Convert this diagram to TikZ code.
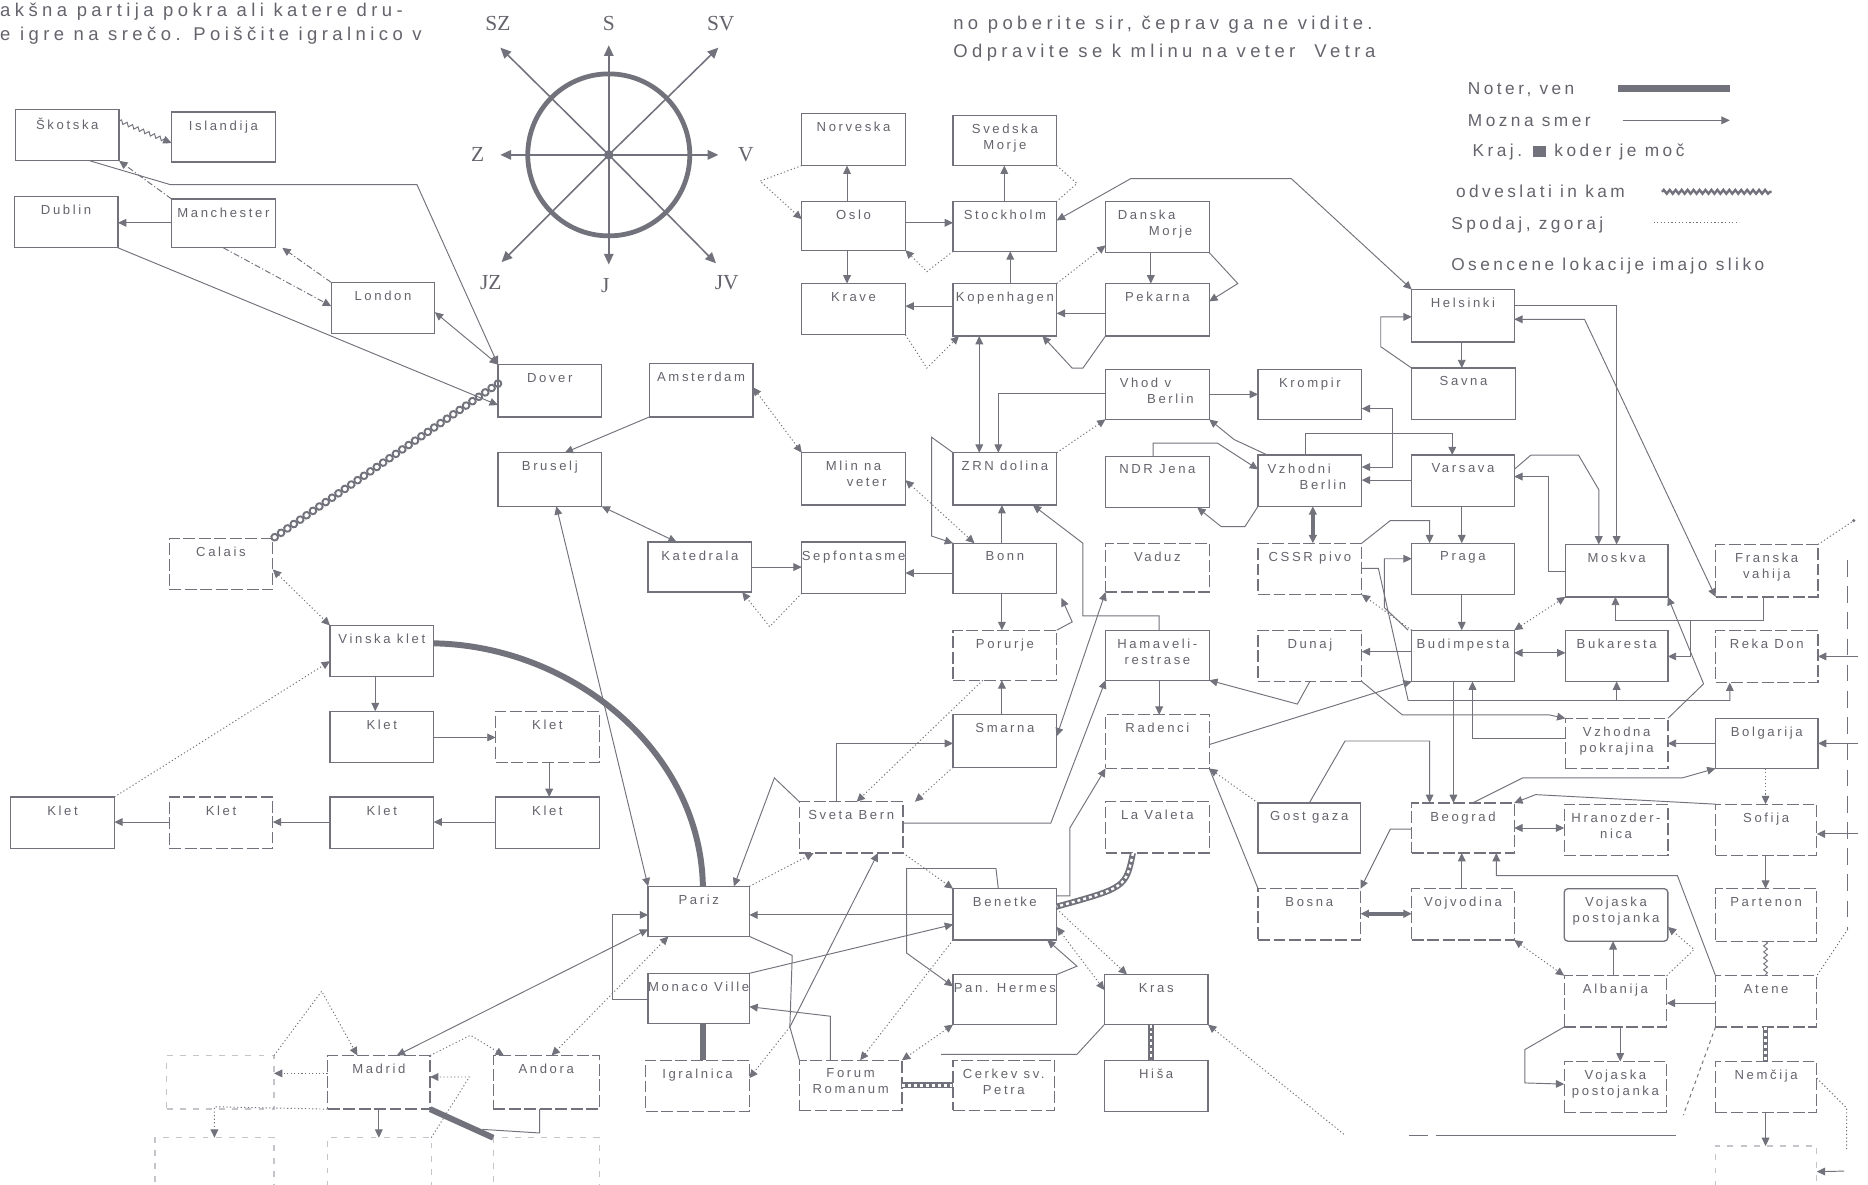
\documentclass[tikz,border=0pt]{standalone}
\usepackage{fontspec}
\setmainfont{Liberation Sans}
\newfontfamily\lblfam[LetterSpace=20]{Liberation Sans}
\newfontfamily\parfam[LetterSpace=24]{Liberation Sans}
\newfontfamily\legfam[LetterSpace=20]{Liberation Sans}
\newfontfamily\compfam{Liberation Serif}
\usetikzlibrary{arrows.meta,decorations.pathmorphing,decorations.markings}
\definecolor{ink}{HTML}{72727C}
\definecolor{txt}{HTML}{64646D}
\definecolor{faint}{HTML}{C4C4CA}
\tikzset{
  box/.style={draw=ink, line width=1.1pt, anchor=north west, minimum width=87pt,
    minimum height=43pt, inner sep=0pt, outer sep=0pt},
  dbox/.style={box, dash pattern=on 10pt off 3pt},
  fbox/.style={box, draw=faint, dash pattern=on 5pt off 6pt},
  lbl/.style={font=\lblfam\fontsize{11}{13.5}\selectfont, text=txt, inner sep=0pt,
    align=center, anchor=north},
  partxt/.style={font=\parfam\fontsize{15.5}{19}\selectfont, text=txt, inner sep=0pt},
  legtxt/.style={font=\legfam\fontsize{14.5}{17}\selectfont, text=txt, inner sep=0pt, anchor=west},
  link/.style={draw=ink, line width=0.8pt},
  arr/.style={link, -{Triangle[length=7pt,width=6.5pt]}},
  barr/.style={link, {Triangle[length=7pt,width=6.5pt]}-{Triangle[length=7pt,width=6.5pt]}},
  dotline/.style={dash pattern=on 1pt off 2pt},
  dashdotline/.style={dash pattern=on 5pt off 2pt on 1pt off 2pt},
  heavyline/.style={draw=ink, line width=5pt},
  chainline/.style={draw=ink, line width=5pt,
    postaction={draw=white, line width=2pt, dash pattern=on 2.5pt off 2.5pt}},
  ringchain/.style={postaction={decorate}, decoration={markings,
    mark=between positions 0 and 1 step 6.5pt with
      {\draw[ink, line width=1.6pt] (0,0) circle[radius=2.8pt];}}},
  wavyline/.style={link, decorate, decoration={snake, amplitude=1.6pt, segment length=5pt}},
  spoke/.style={draw=ink, line width=1.3pt, -{Triangle[length=9pt,width=8pt]}},
  compass/.style={font=\compfam\fontsize{18}{18}\selectfont, text=txt, inner sep=0pt},
}
% a location box with its name set near the top edge
\newcommand\loc[4][]{\node[box,#1] (#2) at (#3) {};
  \node[lbl] (#2-t) at ([yshift=-7pt]#2.north) {#4};}

\begin{document}
\begin{tikzpicture}[x=1pt,y=-1pt]
\useasboundingbox (0,0) rectangle (1568,994);
\fill[white] (0,0) rectangle (1568,994);

% ---------- running text ----------
\node[partxt, anchor=base west] (p1) at (0,14) {akšna partija pokra ali katere dru-};
\node[partxt, anchor=base west] (p2) at (0,34) {e igre na srečo. Poiščite igralnico v};
\node[partxt, anchor=base west] (p3) at (800,25) {no poberite sir, čeprav ga ne vidite.};
\node[partxt, anchor=base west] (p4) at (800,48) {Odpravite se k mlinu na veter\ \ Vetra};

% ---------- legend ----------
\node[legtxt] (lg1) at (1232,75) {Noter, ven};
\node[legtxt] (lg2) at (1232,101) {Mozna smer};
\node[legtxt] (lg3) at (1236,128) {Kraj. \textcolor{ink}{\rule{11pt}{9pt}} koder je moč};
\node[legtxt] (lg4) at (1222,161) {odveslati in kam};
\node[legtxt] (lg5) at (1218,189) {Spodaj, zgoraj};
\node[legtxt] (lg6) at (1218,223) {Osencene lokacije imajo sliko};
\coordinate (la1) at (1358,74);  \coordinate (lb1) at (1452,74);
\coordinate (la2) at (1362,101); \coordinate (lb2) at (1452,101);
\coordinate (la4) at (1395,161); \coordinate (lb4) at (1487,161);
\coordinate (la5) at (1388,187); \coordinate (lb5) at (1460,187);
\draw[heavyline, line width=6pt] (la1) -- (lb1);
\draw[arr] (la2) -- (lb2);
\draw[wavyline, line width=2pt] (la4) -- (lb4);
\draw[link, dotline, line width=0.6pt] (la5) -- (lb5);

% ---------- compass ----------
\coordinate (c0) at (511,130);
\coordinate (cN) at (511,38);  \coordinate (cS) at (511,222);
\coordinate (cE) at (603,130); \coordinate (cW) at (420,130);
\coordinate (cNE) at (603,40); \coordinate (cNW) at (420,40);
\coordinate (cSE) at (601,221); \coordinate (cSW) at (421,220);
\draw[draw=ink, line width=4pt] (c0) circle[radius=68pt];
\foreach \t in {cN,cS,cE,cW,cNE,cNW,cSE,cSW} \draw[spoke] (c0) -- (\t);
\fill[ink] (c0) circle[radius=4pt];
\node[compass] (kSZ) at (418,20) {SZ};
\node[compass] (kS) at (511,20) {S};
\node[compass] (kSV) at (605,20) {SV};
\node[compass] (kZ) at (401,130) {Z};
\node[compass] (kV) at (626,130) {V};
\node[compass] (kJZ) at (412,237) {JZ};
\node[compass] (kJ) at (508,240) {J};
\node[compass] (kJV) at (610,237) {JV};

% ---------- locations ----------
\loc{skotska}{13,92}{Škotska}
\loc[minimum height=42pt]{islandija}{144,94}{Islandija}
\loc{dublin}{12,165}{Dublin}
\loc[minimum height=41pt]{manchester}{144,167}{Manchester}
\loc{london}{278,237}{London}
\loc[minimum height=44pt]{dover}{418,306}{Dover}
\loc[dbox]{calais}{142,452}{Calais}
\loc{vinska}{277,525}{Vinska klet}
\loc{kleta}{277,597}{Klet}
\loc[dbox]{kletb}{416,597}{Klet}
\loc{kletc}{416,669}{Klet}
\loc{kletd}{277,669}{Klet}
\loc[dbox]{klete}{142,669}{Klet}
\loc{kletf}{9,669}{Klet}

\loc[minimum height=45pt]{amsterdam}{545,305}{Amsterdam}
\loc[minimum height=45pt]{bruselj}{418,380}{Bruselj}
\loc[minimum height=44pt]{mlin}{673,380}{Mlin na\\\hspace*{22pt}veter}
\loc[minimum height=42pt]{katedrala}{544,455}{Katedrala}
\loc{sepf}{673,455}{Sepfontasme}

\loc[minimum height=44pt]{norveska}{673,95}{Norveska}
\loc[minimum height=42pt]{svedska}{800,97}{Svedska\\Morje}
\loc[minimum height=41pt]{oslo}{673,169}{Oslo}
\loc[minimum height=42pt]{stockholm}{800,169}{Stockholm}
\loc{danska}{928,169}{Danska\hspace*{18pt}\\\hspace*{22pt}Morje}
\loc{krave}{673,238}{Krave}
\loc[minimum height=44pt]{kopenhagen}{800,238}{Kopenhagen}
\loc[minimum height=44pt]{pekarna}{928,238}{Pekarna}
\loc[minimum height=42pt]{vhod}{928,310}{Vhod v\hspace*{20pt}\\\hspace*{22pt}Berlin}
\loc[minimum height=44pt]{zrn}{800,380}{ZRN dolina}
\loc{ndr}{928,383}{NDR Jena}
\loc[minimum height=42pt]{bonn}{800,456}{Bonn}
\loc[dbox, minimum height=41pt]{vaduz}{928,456}{Vaduz}
\loc[dbox, minimum height=42pt]{porurje}{800,529}{Porurje}
\loc[minimum height=42pt]{hamaveli}{928,529}{Hamaveli-\\restrase}
\loc[minimum height=44pt]{smarna}{800,600}{Smarna}
\loc[dbox, minimum height=45pt]{radenci}{928,600}{Radenci}
\loc[dbox]{sveta}{671,673}{Sveta Bern}
\loc[dbox]{lavaleta}{928,673}{La Valeta}
\loc[minimum width=85pt, minimum height=42pt]{pariz}{544,744}{Pariz}
\loc{benetke}{800,746}{Benetke}
\loc[minimum width=85pt, minimum height=42pt]{monaco}{544,817}{Monaco Ville}
\loc[minimum height=42pt]{hermes}{800,818}{Pan. Hermes}
\loc[minimum height=42pt]{kras}{927,818}{Kras}
\loc[dbox]{igralnica}{542,890}{Igralnica}
\loc[dbox, minimum width=86pt, minimum height=42pt]{forum}{671,890}{Forum\\Romanum}
\loc[dbox, minimum width=85pt, minimum height=42pt]{cerkev}{800,890}{Cerkev sv.\\Petra}
\loc{jama}{927,890}{Hiša}

\loc[minimum height=42pt]{krompir}{1056,310}{Krompir}
\loc[minimum width=86pt, minimum height=44pt]{helsinki}{1185,243}{Helsinki}
\loc{savna}{1185,309}{Savna}
\loc{vzberlin}{1056,382}{Vzhodni\hspace*{18pt}\\\hspace*{22pt}Berlin}
\loc[minimum width=86pt]{varsava}{1185,382}{Varsava}
\loc[dbox]{cssr}{1056,456}{CSSR pivo}
\loc[minimum width=86pt]{praga}{1185,456}{Praga}
\loc[minimum width=86pt, minimum height=44pt]{moskva}{1314,457}{Moskva}
\loc[dbox, minimum width=86pt, minimum height=44pt]{franska}{1440,457}{Franska\\vahija}
\loc[dbox]{dunaj}{1056,529}{Dunaj}
\loc[minimum width=86pt]{budimpesta}{1185,529}{Budimpesta}
\loc[minimum width=86pt]{bukaresta}{1314,529}{Bukaresta}
\loc[dbox, minimum width=86pt, minimum height=44pt]{rekadon}{1440,529}{Reka Don}
\loc[dbox, minimum width=86pt, minimum height=42pt]{vzhodna}{1314,603}{Vzhodna\\pokrajina}
\loc[minimum width=86pt, minimum height=42pt]{bolgarija}{1440,603}{Bolgarija}
\loc[minimum width=86pt, minimum height=42pt]{gosti}{1056,674}{Gost gaza}
\loc[dbox, minimum width=86pt, minimum height=42pt]{beograd}{1185,674}{Beograd}
\loc[dbox]{hrano}{1313,675}{Hranozder-\\nica}
\loc[dbox, minimum width=85pt]{sofija}{1440,675}{Sofija}
\loc[dbox, minimum width=86pt]{bosna}{1056,746}{Bosna}
\loc[dbox, minimum width=86pt]{vojvodina}{1185,746}{Vojvodina}
\loc[rounded corners=3pt, minimum height=44pt]{vojaska1}{1313,746}{Vojaska\\postojanka}
\loc[dbox, minimum width=85pt, minimum height=44pt]{partenon}{1440,746}{Partenon}
\loc[dbox, minimum width=86pt]{albanija}{1313,819}{Albanija}
\loc[dbox, minimum width=85pt]{atene}{1440,819}{Atene}
\loc[dbox, minimum width=86pt]{vojaska2}{1313,891}{Vojaska\\postojanka}
\loc[dbox, minimum width=85pt]{nemcija}{1440,891}{Nemčija}
\node[fbox, minimum width=85pt] (nb) at (1440,962) {};

\loc[dbox, minimum width=86pt, minimum height=45pt]{madrid}{275,886}{Madrid}
\loc[dbox, minimum width=89pt, minimum height=45pt]{andora}{414,886}{Andora}
\node[fbox, minimum width=90pt, minimum height=45pt] (lizbona) at (140,886) {};
\node[fbox, minimum width=100pt] (b1) at (130,955) {};
\node[fbox] (b2) at (275,955) {};
\node[fbox, minimum width=89pt] (b3) at (414,955) {};

% ---------- British Isles and the west ----------
\draw[wavyline, arr] ([yshift=12pt]skotska.east) -- ([yshift=-5pt]islandija.west);
\draw[arr, dashdotline] (manchester.north west) -- (skotska.south east);
\draw[arr] ([xshift=19pt]skotska.south) -- (143,155) -- (350,155) -- (dover.north west);
\draw[arr] (manchester.west |- 0,187) -- (dublin.east |- 0,187);
\draw[arr, dashdotline] (manchester.south) -- (london.west |- 0,257);
\draw[arr, dashdotline] (london.north west) -- ([xshift=6pt]manchester.south east);
\draw[arr] (dublin.south east) -- (dover.west |- 0,340);
\draw[barr] (london.east |- 0,262) -- (dover.north west);
\path[ringchain] ([yshift=6pt]dover.west) -- (calais.north east);
\draw[barr, dotline] (calais.east |- 0,478) -- (vinska.north west);
\draw[arr, dotline] (kletf.north east) -- (vinska.west |- 0,555);
\draw[arr] (vinska.south -| 315,0) -- (kleta.north -| 315,0);
\draw[arr] (kleta.east |- 0,619) -- (kletb.west |- 0,619);
\draw[arr] (kletb.south -| 461,0) -- (kletc.north -| 461,0);
\draw[arr] (kletc.west |- 0,690) -- (kletd.east |- 0,690);
\draw[arr] (kletd.west |- 0,690) -- (klete.east |- 0,690);
\draw[arr] (klete.west |- 0,690) -- (kletf.east |- 0,690);
\draw[heavyline] (vinska.east |- 0,540) .. controls (480,542) and (588,630) .. (pariz.north -| 590,0);

% ---------- Low Countries ----------
\draw[arr] (amsterdam.south west) -- (bruselj.north -| 474,0);
\draw[barr] (bruselj.south east) -- (katedrala.north -| 568,0);
\draw[barr] (pariz.north west) -- (bruselj.south -| 467,0);
\draw[barr, dotline] (amsterdam.east |- 0,325) -- (mlin.north west);
\draw[arr] (katedrala.east |- 0,476) -- (sepf.west |- 0,476);
\draw[arr, dotline] (sepf.south west) -- (646,526) -- ([xshift=-8pt]katedrala.south east);
\draw[arr] (bonn.west |- 0,481) -- (sepf.east |- 0,481);
\draw[barr, dotline] (mlin.east |- 0,403) -- (bonn.north -| 818,0);
\draw[arr] (zrn.north west) -- (782,367) -- (782,450) -- (bonn.north west);
\draw[arr] (bonn.north -| 841,0) -- (zrn.south -| 841,0);
\draw[arr] (bonn.south -| 841,0) -- (porurje.north -| 841,0);
\draw[arr] (porurje.north east) -- (900,522) -- ([xshift=4pt,yshift=-4pt]bonn.south east);
\draw[arr] (hamaveli.north -| 973,0) -- (973,517) -- (909,517) -- (909,456) -- ([xshift=-20pt]zrn.south east);

% ---------- Scandinavia ----------
\draw[arr] (oslo.north -| 711,0) -- (norveska.south -| 711,0);
\draw[arr] (oslo.south -| 711,0) -- (krave.north -| 711,0);
\draw[arr] (oslo.east |- 0,187) -- (stockholm.west |- 0,187);
\draw[arr, dotline] (stockholm.south west) -- (778,228) -- (oslo.south east);
\draw[arr, dotline] (norveska.south west) -- (638,152) -- (oslo.west |- 0,184);
\draw[arr] (stockholm.north -| 843,0) -- (svedska.south -| 843,0);
\draw[link, dotline] (svedska.south east) -- (904,154) -- (stockholm.north east);
\draw[barr] (stockholm.east |- 0,185) -- (949,150) -- (1084,150) -- (helsinki.north west);
\draw[arr] (kopenhagen.north -| 848,0) -- (stockholm.south -| 848,0);
\draw[arr] (kopenhagen.west |- 0,257) -- (krave.east |- 0,257);
\draw[arr] (pekarna.west |- 0,263) -- (kopenhagen.east |- 0,263);
\draw[arr] (danska.south -| 966,0) -- (pekarna.north -| 966,0);
\draw[arr] (danska.south east) -- (1039,238) -- (pekarna.east |- 0,253);
\draw[arr, dotline] (kopenhagen.north east) -- (danska.west |- 0,206);
\draw[arr, dotline] (krave.south east) -- (778,309) -- ([xshift=5pt]kopenhagen.south west);
\draw[arr] (pekarna.south west) -- (909,309) -- (900,309) -- ([xshift=-12pt]kopenhagen.south east);
\draw[barr] (kopenhagen.south -| 822,0) -- (zrn.north -| 822,0);
\draw[arr] (vhod.west |- 0,330) -- (838,330) -- (zrn.north -| 838,0);
\draw[arr, dotline] (zrn.north east) -- (vhod.south west);
\draw[arr] (vhod.east |- 0,331) -- (krompir.west |- 0,331);
\draw[arr] (ndr.north -| 968,0) -- (968,372) -- (1022,372) -- (vzberlin.west |- 0,394);
\draw[arr] (vzberlin.south west) -- (1045,442) -- (1025,442) -- ([xshift=-10pt]ndr.south east);
\draw[arr] ([xshift=8pt]vzberlin.north west) -- (1036,369) -- (vhod.south east);

% ---------- Central and Eastern Europe ----------
\draw[arr] (helsinki.south -| 1227,0) -- (savna.north -| 1227,0);
\draw[arr] (savna.north west) -- (1159,291) -- (1159,266) -- (helsinki.west |- 0,266);
\draw[arr] (helsinki.east |- 0,256) -- (1357,256) -- (moskva.north -| 1357,0);
\draw[barr] (helsinki.east |- 0,268) -- (1330,268) -- (franska.south west);
\draw[arr] (varsava.east |- 0,394) -- (1285,382) -- (1325,382) -- (1342,411) -- (moskva.north -| 1342,0);
\draw[arr] (moskva.west |- 0,480) -- (1300,480) -- (1300,400) -- (varsava.east |- 0,400);
\draw[arr] (varsava.west |- 0,403) -- (vzberlin.east |- 0,403);
\draw[arr] (varsava.south -| 1227,0) -- (praga.north -| 1227,0);
\draw[barr, line width=3pt] (vzberlin.south -| 1102,0) -- (cssr.north -| 1102,0);
\draw[arr] (vzberlin.north -| 1096,0) -- (1096,364) -- (1219,364) -- (varsava.north -| 1219,0);
\draw[barr] (krompir.east |- 0,343) -- (1169,343) -- (1169,392) -- (vzberlin.east |- 0,392);
\draw[arr] (cssr.north east) -- (1167,437) -- (1200,437) -- (praga.north -| 1200,0);
\draw[arr, dotline] (budimpesta.north west) -- (cssr.south east);
\draw[arr] ([xshift=-3pt]budimpesta.north west) -- (1162,510) -- (1162,469) -- (praga.west |- 0,469);
\coordinate (j1) at (1357,588);
\draw[arr] (cssr.east |- 0,477) -- (1157,477) -- (1182,588) -- (1452,588) -- ([xshift=12pt]rekadon.south west);
\draw[arr] (j1) -- (bukaresta.south -| 1357,0);
\draw[arr] (dunaj.south east) -- (1177,600) -- (1300,600) -- (vzhodna.north west);
\draw[arr] (praga.south -| 1227,0) -- (budimpesta.north -| 1227,0);
\draw[arr] (budimpesta.west |- 0,547) -- (dunaj.east |- 0,547);
\draw[barr] (budimpesta.east |- 0,548) -- (bukaresta.west |- 0,548);
\draw[barr, dotline] (budimpesta.north east) -- (moskva.south west);
\draw[arr] (franska.south -| 1480,0) -- (1480,521) -- (1356,521) -- (moskva.south -| 1356,0);
\draw[arr] (franska.south -| 1480,0) -- (1480,521) -- (1419,521) -- (1419,551) -- (bukaresta.east |- 0,551);
\draw[arr] (vzhodna.north east) -- (1430,574) -- (moskva.south east);
\draw[arr] (bolgarija.west |- 0,624) -- (vzhodna.east |- 0,624);
\draw[arr] (vzhodna.west |- 0,620) -- (1236,620) -- (budimpesta.south -| 1236,0);
\draw[arr] (budimpesta.south -| 1220,0) -- (beograd.north -| 1220,0);
\draw[arr] (gosti.north) -- (1129,622) -- (1200,622) -- (beograd.north -| 1200,0);
\draw[arr] (radenci.east |- 0,625) -- (budimpesta.south west);
\draw[arr, dotline] (gosti.north west) -- (radenci.south east);
\draw[link] (radenci.south east) -- (bosna.north west);
\draw[arr] (dunaj.south) -- (1089,591) -- (hamaveli.south east);
\draw[barr] (beograd.east |- 0,695) -- (hrano.west |- 0,695);
\draw[arr] (vojvodina.north -| 1227,0) -- (beograd.south -| 1227,0);
\draw[barr, line width=3pt] (bosna.east |- 0,767) -- (vojvodina.west |- 0,767);
\draw[arr] (beograd.west |- 0,696) -- (1167,696) -- (bosna.north east);
\draw[arr] (atene.north west) -- (1408,735) -- (1256,735) -- (beograd.south -| 1256,0);
\draw[arr] ([xshift=8pt]beograd.north) -- (1278,653) -- (1412,653) -- (bolgarija.south west);
\draw[arr] (sofija.north west) -- (1289,667) -- (beograd.north east);
\draw[arr, dotline] (bolgarija.south -| 1482,0) -- (sofija.north -| 1482,0);
\draw[arr] (sofija.south -| 1482,0) -- (partenon.north -| 1482,0);
\draw[wavyline] (partenon.south -| 1482,0) -- (atene.north -| 1482,0);
\draw[arr] (atene.west |- 0,842) -- (albanija.east |- 0,842);
\draw[chainline, line width=4pt] (atene.south -| 1482,0) -- (nemcija.north -| 1482,0);
\draw[arr] (nemcija.south -| 1482,0) -- (nb.north -| 1482,0);
\draw[arr] (albanija.south -| 1360,0) -- (vojaska2.north -| 1360,0);
\draw[arr] (albanija.north -| 1354,0) -- (vojaska1.south -| 1354,0);
\draw[barr, dotline] (vojvodina.south east) -- (albanija.north west);
\draw[arr, dotline] (albanija.north east) -- (1422,797) -- (vojaska1.east |- 0,778);
\draw[arr] (albanija.south west) -- (1280,881) -- (1280,909) -- (vojaska2.west |- 0,910);

% ---------- right margin ----------
\coordinate (e1) at (1560,551); \coordinate (e2) at (1560,624);
\coordinate (e3) at (1560,700); \coordinate (e4) at (1548,983);
\coordinate (e5) at (1556,437);
\coordinate (r1) at (1551,470); \coordinate (r2) at (1551,780);
\coordinate (r3) at (1550,965);
\draw[arr] (e1) -- (rekadon.east |- 0,551);
\draw[arr] (e2) -- (bolgarija.east |- 0,624);
\draw[arr] (e3) -- (sofija.east |- 0,700);
\draw[arr] (e4) -- (nb.east);
\draw[link, dotline] (franska.north east) -- (e5);
\fill[ink] (e5) circle[radius=1.5pt];
\draw[link, dash pattern=on 14pt off 8pt] (r1) -- (r2);
\draw[link, dotline] (r2) -- (atene.north east);
\draw[link, dotline] (nemcija.east |- 0,905) -- (1550,930) -- (r3);
\coordinate (s1) at (1128,952);
\draw[arr, dotline] (s1) -- (kras.south east);
\coordinate (h1) at (1183,953); \coordinate (h2) at (1407,953); \coordinate (h3) at (1413,936);
\draw[link, dash pattern=on 16pt off 6pt on 200pt off 0pt] (h1) -- (h2);
\draw[link, dashed] (atene.south west) -- (h3);

% ---------- Alps, Italy and France ----------
\draw[barr] (vaduz.south west) -- (smarna.east |- 0,618);
\draw[arr] (smarna.north -| 841,0) -- (porurje.south -| 841,0);
\draw[arr, dotline] ([xshift=25pt]porurje.south west) -- (sveta.north -| 719,0);
\draw[arr, dotline] (smarna.south west) -- (sveta.north -| 768,0);
\draw[arr] (sveta.north -| 702,0) -- (702,624) -- (smarna.west |- 0,624);
\draw[arr] (sveta.north west) -- (650,653) -- (pariz.north -| 616,0);
\draw[arr] (sveta.east |- 0,691) -- (882,691) -- (hamaveli.south west);
\draw[arr] (benetke.east |- 0,752) -- (898,752) -- (898,695) -- (radenci.south west);
\draw[arr] (hamaveli.south -| 973,0) -- (radenci.north -| 973,0);
\draw[chainline] (lavaleta.south -| 951,0) .. controls (945,745) .. (benetke.east |- 0,761);
\draw[arr] (benetke.west |- 0,768) -- (pariz.east |- 0,768);
\draw[arr] (monaco.north east) -- (benetke.west |- 0,776);
\draw[arr, dotline] (sveta.south east) -- (benetke.north west);
\draw[arr, dotline] (pariz.north east) -- (sveta.south -| 683,0);
\coordinate (k1) at (663,862);
\draw[arr] (forum.north west) -- (k1) -- (sveta.south -| 737,0);
\draw[arr, dotline] (k1) -- (igralnica.east |- 0,905);
\draw[link] (pariz.south east) -- (665,802) -- (k1);
\draw[arr, dotline] (benetke.south west) -- (forum.north -| 722,0);
\draw[chainline] (forum.east |- 0,911) -- (cerkev.west |- 0,911);
\draw[arr] (benetke.north -| 838,0) -- (836,729) -- (761,729) -- (761,800) -- (hermes.west |- 0,828);
\draw[barr, dotline] (hermes.south west) -- (forum.north east);
\draw[arr] (hermes.north east) -- (904,811) -- ([xshift=-8pt]benetke.south east);
\draw[barr, dotline] (benetke.east |- 0,778) -- (kras.west |- 0,831);
\draw[arr, dotline] (benetke.east |- 0,763) -- (kras.north -| 946,0);
\draw[chainline] (kras.south -| 966,0) -- (jama.north -| 966,0);
\draw[link] (kras.south west) -- (904,885) -- ([xshift=-10pt,yshift=5pt]cerkev.north west);
\draw[arr] (monaco.west |- 0,839) -- (514,839) -- (514,768) -- (pariz.west |- 0,768);
\draw[draw=ink, line width=5pt] (monaco.south -| 590,0) -- (igralnica.north -| 590,0);
\draw[arr] (forum.north -| 697,0) -- (697,853) -- (monaco.east |- 0,845);

% ---------- Iberia ----------
\draw[barr] (madrid.north -| 333,0) -- ([yshift=6pt]pariz.south west);
\draw[barr, dotline] (pariz.south -| 561,0) -- (andora.north -| 463,0);
\draw[arr, dotline] (madrid.west |- 0,901) -- (lizbona.east |- 0,901);
\draw[arr, dotline] (lizbona.north east) -- (270,832) -- (madrid.north -| 300,0);
\draw[arr, dotline] (madrid.north east) -- (395,869) -- (andora.north -| 423,0);
\draw[arr, dotline] (b2.north east) -- (394,904) -- (madrid.east |- 0,904);
\draw[heavyline] (madrid.south east) -- (b3.north west);
\draw[arr] (madrid.south -| 318,0) -- (b2.north -| 318,0);
\coordinate (m1) at (405,948);
\draw[link] (andora.south -| 453,0) -- (453,951) -- (m1);
\draw[arr, dotline] (madrid.south west) -- (180,929) -- (b1.north -| 180,0);
\end{tikzpicture}
\end{document}
